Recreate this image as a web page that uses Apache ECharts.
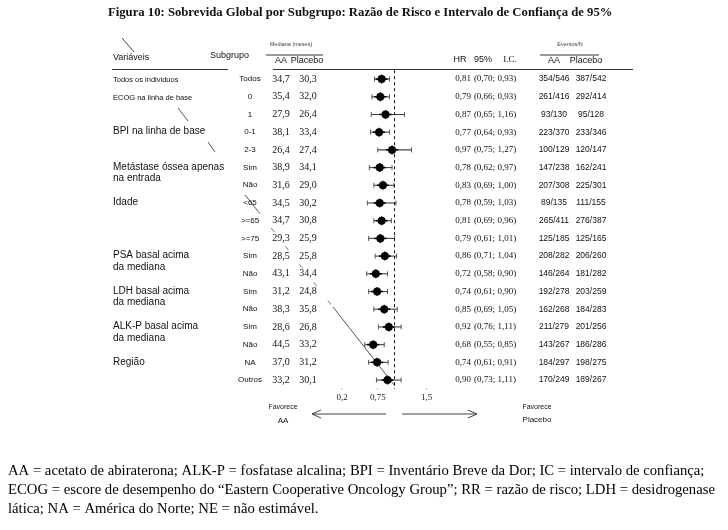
<!DOCTYPE html>
<html>
<head>
<meta charset="utf-8">
<script src="https://cdn.jsdelivr.net/npm/echarts@6/dist/echarts.min.js"></script>
<style>html,body{margin:0;padding:0;background:#fff}#c{width:728px;height:530px}</style>
</head>
<body>
<div id="c"></div>
<script>
// ---- data ----
var subgroups = ['Todos','0','1','0-1','2-3','Sim','Não','<65','>=65','>=75','Sim','Não','Sim','Não','Sim','Não','NA','Outros'];
var medianAA = ['34,7','35,4','27,9','38,1','26,4','38,9','31,6','34,5','34,7','29,3','28,5','43,1','31,2','38,3','28,6','44,5','37,0','33,2'];
var medianPlacebo = ['30,3','32,0','26,4','33,4','27,4','34,1','29,0','30,2','30,8','25,9','25,8','34,4','24,8','35,8','26,8','33,2','31,2','30,1'];
var hr = [0.81,0.79,0.87,0.77,0.97,0.78,0.83,0.78,0.81,0.79,0.86,0.72,0.74,0.85,0.92,0.68,0.74,0.90];
var ciLow = [0.70,0.66,0.65,0.64,0.75,0.62,0.69,0.59,0.69,0.61,0.71,0.58,0.61,0.69,0.76,0.55,0.61,0.73];
var ciHigh = [0.93,0.93,1.16,0.93,1.27,0.97,1.00,1.03,0.96,1.01,1.04,0.90,0.90,1.05,1.11,0.85,0.91,1.11];
var eventsAA = ['354/546','261/416','93/130','223/370','100/129','147/238','207/308','89/135','265/411','125/185','208/282','146/264','192/278','162/268','211/279','143/267','184/297','170/249'];
var eventsPlacebo = ['387/542','292/414','95/128','233/346','120/147','162/241','225/301','111/155','276/387','125/165','206/260','181/282','203/259','184/283','201/256','186/286','198/275','189/267'];
var variableNames = ['Todos os individuos','ECOG na linha de base','BPI na linha de base','Metástase óssea apenas\nna entrada','Idade','PSA basal acima\nda mediana','LDH basal acima\nda mediana','ALK-P basal acima\nda mediana','Região'];
var variableRows = [0,1,3,5,7,10,12,14,16];
var axisTicks = [0.2, 0.75, 1.5];
var axisTickLabels = ['0,2','0,75','1,5'];

function fmt(v){ return v.toFixed(2).replace('.', ','); }

var rowIdx = subgroups.map(function(_, i){ return i; });
var SANS = 'Liberation Sans, Arial, sans-serif';
var SERIF = 'Liberation Serif, Times New Roman, serif';

function textSeries(colX, texts, font, align, color){
  return {
    type: 'custom', xAxisIndex: 1, yAxisIndex: 1, silent: true,
    data: texts.map(function(t, i){ return [colX, i]; }),
    renderItem: function(params, api){
      var i = params.dataIndex;
      var p = api.coord([colX, i]);
      return {type: 'text', x: p[0], y: p[1], style: {text: texts[i], font: font, align: align || 'center', verticalAlign: 'middle', fill: color || '#111'}};
    }
  };
}

var chart = echarts.init(document.getElementById('c'), null, {renderer: 'canvas'});

var gridTop = 70.2, gridH = 318.7;

var series = [];
// forest plot
series.push({
  type: 'custom', xAxisIndex: 0, yAxisIndex: 0, silent: true,
  data: rowIdx.map(function(i){ return [hr[i], i, ciLow[i], ciHigh[i]]; }),
  renderItem: function(params, api){
    var i = params.dataIndex;
    var pc = api.coord([api.value(0), i]);
    var pl = api.coord([api.value(2), i]);
    var ph = api.coord([api.value(3), i]);
    var y = pc[1];
    return {type: 'group', children: [
      {type: 'line', shape: {x1: pl[0], y1: y, x2: ph[0], y2: y}, style: {stroke: '#444', lineWidth: 1.1}},
      {type: 'line', shape: {x1: pl[0], y1: y - 2.5, x2: pl[0], y2: y + 2.5}, style: {stroke: '#555', lineWidth: 1}},
      {type: 'line', shape: {x1: ph[0], y1: y - 2.5, x2: ph[0], y2: y + 2.5}, style: {stroke: '#555', lineWidth: 1}},
      {type: 'line', shape: {x1: pc[0] - 6, y1: y, x2: pc[0] + 6, y2: y}, style: {stroke: '#000', lineWidth: 1.6}},
      {type: 'circle', shape: {cx: pc[0], cy: y, r: 4}, style: {fill: '#000'}},
      {type: 'line', shape: {x1: pc[0], y1: y - 4.5, x2: pc[0], y2: y + 4.5}, style: {stroke: '#000', lineWidth: 1.2}}
    ]};
  },
  markLine: {
    silent: true, symbol: 'none', label: {show: false},
    lineStyle: {type: [3, 3], color: '#111', width: 1},
    data: [{xAxis: 1}]
  }
});

// variable labels
series.push({
  type: 'custom', xAxisIndex: 1, yAxisIndex: 1, silent: true,
  data: variableRows.map(function(r){ return [113, r]; }),
  renderItem: function(params, api){
    var k = params.dataIndex;
    var p = api.coord([113, variableRows[k]]);
    var small = k < 2;
    var fs = small ? 7.5 : 10;
    return {type: 'text', x: p[0], y: p[1] - fs * 0.62, style: {text: variableNames[k], font: fs + 'px ' + SANS, align: 'left', verticalAlign: 'top', lineHeight: 11.5, fill: '#111'}};
  }
});
series.push(textSeries(250, subgroups, '8px ' + SANS, 'center', '#111'));
series.push(textSeries(281, medianAA, '10px ' + SERIF));
series.push(textSeries(308, medianPlacebo, '10px ' + SERIF));
series.push(textSeries(463, hr.map(fmt), '9px ' + SERIF));
series.push(textSeries(495, rowIdx.map(function(i){ return '(' + fmt(ciLow[i]) + '; ' + fmt(ciHigh[i]) + ')'; }), '9px ' + SERIF));
series.push(textSeries(554, eventsAA, '8.5px ' + SANS));
series.push(textSeries(591, eventsPlacebo, '8.5px ' + SANS));

function txt(x, y, s, font, align, color){
  return {type: 'text', x: x, y: y, silent: true, style: {text: s, font: font, align: align || 'left', verticalAlign: 'middle', fill: color || '#111'}};
}
function ln(x1, y1, x2, y2, color, w, dash){
  return {type: 'line', silent: true, shape: {x1: x1, y1: y1, x2: x2, y2: y2}, style: {stroke: color || '#333', lineWidth: w || 1, lineDash: dash || null}};
}

var graphics = [
  // headers
  txt(113, 58, 'Variáveis', '9px ' + SANS),
  txt(210, 56, 'Subgrupo', '9px ' + SANS),
  txt(291, 44, 'Mediana (meses)', '5.5px ' + SANS, 'center', '#444'),
  ln(266, 55, 323, 55, '#333', 1),
  txt(281, 61, 'AA', '9px ' + SANS, 'center'),
  txt(307, 61, 'Placebo', '9px ' + SANS, 'center'),
  txt(460, 60, 'HR', '9px ' + SANS, 'center'),
  txt(483, 60, '95%', '9px ' + SANS, 'center'),
  txt(510, 60, 'I.C.', '9px ' + SERIF, 'center'),
  txt(570, 44, 'Eventos/N', '5.5px ' + SANS, 'center', '#444'),
  ln(540, 55, 599, 55, '#333', 1),
  txt(554, 61, 'AA', '9px ' + SANS, 'center'),
  txt(586, 61, 'Placebo', '9px ' + SANS, 'center'),
  ln(112, 69.5, 228, 69.5, '#333', 1),
  ln(273, 69.5, 633, 69.5, '#333', 1),
  // favours
  txt(283, 407, 'Favorece', '7px ' + SANS, 'center'),
  txt(283, 421, 'AA', '8px ' + SANS, 'center'),
  ln(386, 414, 312, 414, '#444', 1),
  {type: 'polyline', silent: true, shape: {points: [[321, 410], [312, 414], [321, 418]]}, style: {stroke: '#444', lineWidth: 1, fill: null}},
  ln(402, 414, 477, 414, '#444', 1),
  {type: 'polyline', silent: true, shape: {points: [[468, 410], [477, 414], [468, 418]]}, style: {stroke: '#444', lineWidth: 1, fill: null}},
  txt(537, 407, 'Favorece', '7px ' + SANS, 'center'),
  txt(537, 420, 'Placebo', '8px ' + SANS, 'center'),
  // pen strokes on the original scan
  ln(122, 38, 134, 52, '#444', 1),
  ln(178, 108, 188, 121, '#555', 1),
  ln(208, 142, 215, 152, '#555', 1),
  ln(245, 195, 257, 210, '#555', 1),
  ln(257, 210, 333, 307, '#777', 1, [5, 18]),
  ln(333, 307, 395, 386, '#555', 1),
  // footnote
  {type: 'text', silent: true, x: 8, y: 462, scaleX: 0.98, style: {
    text: 'AA = acetato de abiraterona; ALK-P = fosfatase alcalina; BPI = Inventário Breve da Dor; IC = intervalo de confiança;\nECOG = escore de desempenho do \u201cEastern Cooperative Oncology Group\u201d; RR = razão de risco; LDH = desidrogenase\nlática; NA = América do Norte; NE = não estimável.',
    font: '15px ' + SERIF, lineHeight: 19, fill: '#000', align: 'left', verticalAlign: 'top'}}
];

chart.setOption({
  animation: false,
  backgroundColor: '#fff',
  title: {text: 'Figura 10: Sobrevida Global por Subgrupo: Razão de Risco e Intervalo de Confiança de 95%', left: 108, top: 6, padding: 0,
    textStyle: {fontFamily: SERIF, fontWeight: 'bold', fontSize: 12.7, color: '#111'}},
  grid: [
    {left: 329, width: 130, top: gridTop, height: gridH},
    {left: 0, width: 728, top: gridTop, height: gridH}
  ],
  xAxis: [
    {type: 'value', gridIndex: 0, min: 0, max: 2, interval: 0.05,
      axisLine: {show: false}, axisTick: {show: false}, splitLine: {show: false},
      axisLabel: {margin: -1, interval: 0, showMinLabel: true, showMaxLabel: true,
        formatter: function(v){
          for (var k = 0; k < axisTicks.length; k++) {
            if (Math.abs(v - axisTicks[k]) < 1e-6) return '{t|\'}\n{l|' + axisTickLabels[k] + '}';
          }
          return '';
        },
        rich: {t: {fontSize: 7, lineHeight: 5, color: '#555', fontFamily: SERIF}, l: {fontSize: 9, lineHeight: 10, color: '#222', fontFamily: SERIF}}
      }},
    {type: 'value', gridIndex: 1, min: 0, max: 728, show: false}
  ],
  yAxis: [
    {type: 'category', gridIndex: 0, data: subgroups.map(function(s, i){ return String(i); }), inverse: true, show: false},
    {type: 'category', gridIndex: 1, data: subgroups.map(function(s, i){ return String(i); }), inverse: true, show: false}
  ],
  series: series,
  graphic: graphics
});
</script>
</body>
</html>
